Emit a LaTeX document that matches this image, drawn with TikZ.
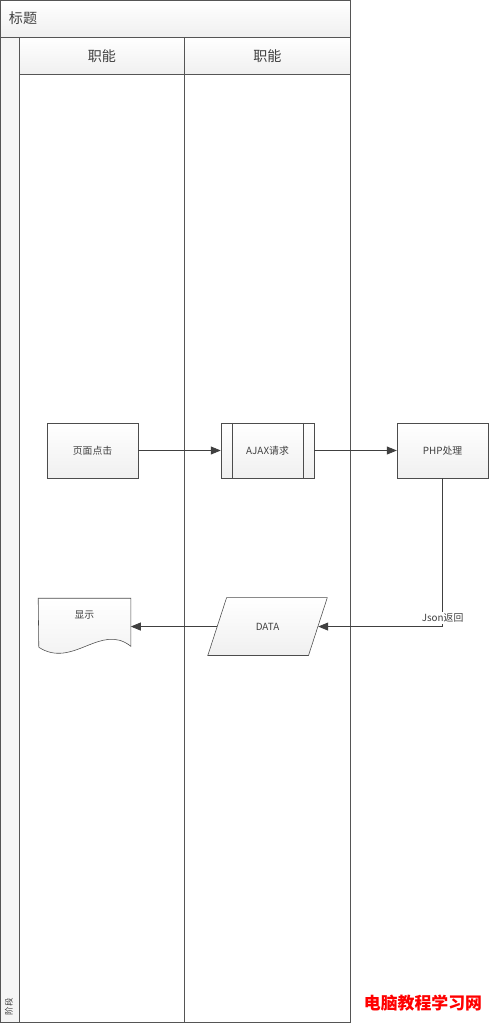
\documentclass[tikz,border=0pt]{standalone}
\usepackage{fontspec}
\setmainfont{Noto Sans CJK SC}
\usetikzlibrary{shapes, arrows.meta, positioning}
\definecolor{edge}{HTML}{555555}
\definecolor{wire}{HTML}{404040}
\tikzstyle{every node}=[font=\fontsize{7}{8}\selectfont, text=black!75]
\tikzstyle{pool}=[draw=edge, line width=0.6pt, rectangle, anchor=north west, inner sep=0pt]
\tikzstyle{bar}=[pool, top color=white, bottom color=gray!12, font=\fontsize{10}{12}\selectfont]
\tikzstyle{block}=[draw=gray!60!black, top color=white, bottom color=gray!12, rectangle, minimum width=2.275cm, minimum height=1.375cm]
\tikzstyle{subproc}=[block, minimum width=2.325cm, path picture={
    \draw[gray!60!black] ([xshift=0.275cm]path picture bounding box.north west) -- ([xshift=0.275cm]path picture bounding box.south west);
    \draw[gray!60!black] ([xshift=-0.275cm]path picture bounding box.north east) -- ([xshift=-0.275cm]path picture bounding box.south east);}]
\tikzstyle{io}=[block, trapezium, trapezium left angle=72, trapezium right angle=108, minimum width=3cm, minimum height=1.4cm, inner xsep=0pt]
\tikzstyle{flow}=[draw=wire, line width=0.6pt]

\begin{document}
\begin{tikzpicture}[x=0.025cm, y=-0.025cm, >={Triangle[length=0.25cm, width=0.2cm]}]
    \useasboundingbox (0,0) rectangle (491,1024);
    % swimlane frame
    \node[bar, minimum width=8.75cm, minimum height=0.925cm] (title) at (0,0) {};
    \node[anchor=west, font=\fontsize{10}{12}\selectfont] (titletext) at (4,18) {标题};
    \node[pool, fill=gray!8, minimum width=0.475cm, minimum height=24.625cm] (phase) at (0,37) {};
    \node[rotate=90, anchor=west, font=\fontsize{6}{7}\selectfont] (phasetext) at (9,1020) {阶段};
    \node[bar, minimum width=4.125cm, minimum height=0.925cm] (head1) at (19,37) {职能};
    \node[bar, minimum width=4.15cm, minimum height=0.925cm] (head2) at (184,37) {职能};
    \node[pool, fill=white, minimum width=4.125cm, minimum height=23.7cm] (lane1) at (19,74) {};
    \node[pool, fill=white, minimum width=4.15cm, minimum height=23.7cm] (lane2) at (184,74) {};

    % flow
    \node[block] (click) at (92.5,450.5) {页面点击};
    \node[subproc, right of=click, node distance=4.375cm] (ajax) {AJAX请求};
    \node[block, right of=ajax, node distance=4.375cm] (php) {PHP处理};
    \node[io, below of=ajax, node distance=4.4cm] (data) {DATA};
    \node[minimum width=2.3cm, minimum height=1.4cm, left of=data, node distance=4.575cm] (show) {};
    \draw[draw=gray!60!black, top color=white, bottom color=gray!12] (show.north west) -- (show.north east) -- ++(0,48)
        .. controls +(-30,-24) and +(34,22) .. ++(-92,1) -- cycle;
    \node[above=0.05cm of show.center] (showtext) {显示};

    \draw[->, flow] (click) -- (ajax);
    \draw[->, flow] (ajax) -- (php);
    \draw[->, flow] (php.south) |- node[pos=0.47, fill=white, inner sep=1pt] (json) {Json返回} (data.east);
    \draw[->, flow] (data.west) -- (show.east);

    \node[anchor=east, font=\bfseries\fontsize{12}{14}\selectfont, text=red] (mark) at (487,1003) {电脑教程学习网};
\end{tikzpicture}
\end{document}
